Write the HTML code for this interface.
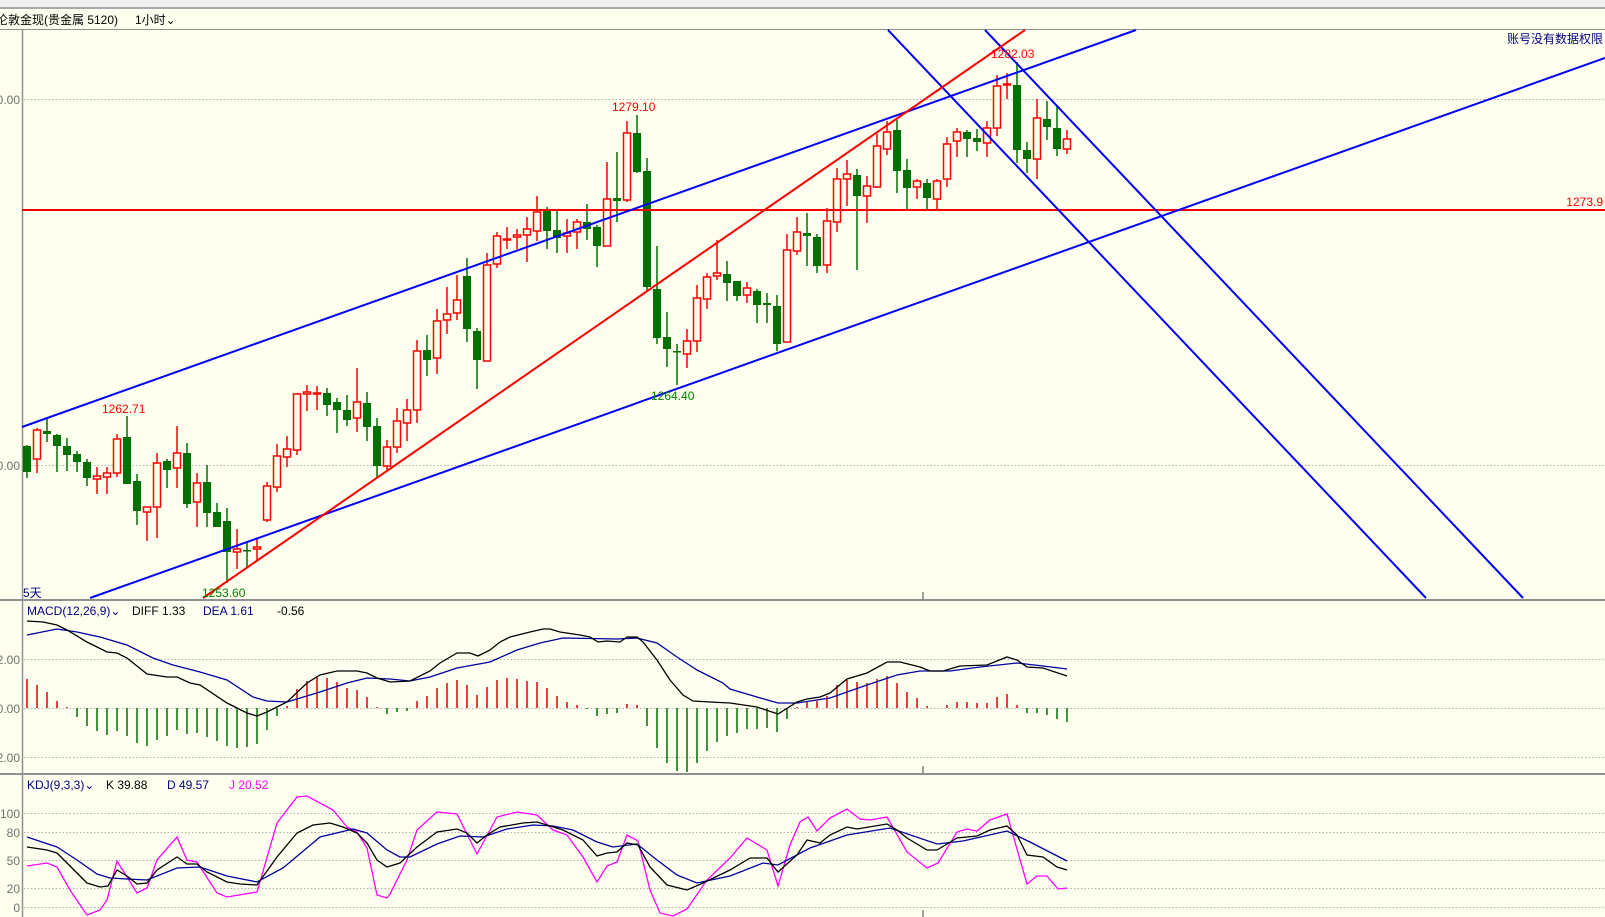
<!DOCTYPE html>
<html><head><meta charset="utf-8"><style>
html,body{margin:0;padding:0;background:#fffff0;width:1605px;height:917px;overflow:hidden}
svg{display:block}
text{font-family:"Liberation Sans","Noto Sans CJK SC",sans-serif;font-size:12px}
</style></head><body>
<svg id="s" width="1605" height="917" xmlns="http://www.w3.org/2000/svg">
<rect x="0" y="0" width="1605" height="917" fill="#fffff0"/>
<rect x="0" y="0" width="1605" height="8" fill="#f0f0f0"/>
<rect x="0" y="7" width="1605" height="2" fill="#a8a8a8"/>
<text x="-4" y="24" font-size="13" fill="#000">伦敦金现(贵金属 5120)</text>
<text x="135" y="24" font-size="13" fill="#000">1小时⌄</text>
<line x1="0" y1="29.5" x2="1605" y2="29.5" stroke="#909090" stroke-width="1"/>
<line x1="22.5" y1="29" x2="22.5" y2="917" stroke="#909090" stroke-width="1.5"/>
<line x1="0" y1="600" x2="1605" y2="600" stroke="#909090" stroke-width="2"/>
<line x1="0" y1="774" x2="1605" y2="774" stroke="#909090" stroke-width="2"/>
<g stroke="#b0b0b0" stroke-dasharray="1.5,2" stroke-width="1">
<line x1="24" y1="99.5" x2="1605" y2="99.5"/><line x1="24" y1="465.5" x2="1605" y2="465.5"/>
<line x1="24" y1="659.5" x2="1605" y2="659.5"/><line x1="24" y1="708.5" x2="1605" y2="708.5"/><line x1="24" y1="757.5" x2="1605" y2="757.5"/>
<line x1="24" y1="813.5" x2="1605" y2="813.5"/><line x1="24" y1="832.5" x2="1605" y2="832.5"/><line x1="24" y1="860.5" x2="1605" y2="860.5"/><line x1="24" y1="888.5" x2="1605" y2="888.5"/><line x1="24" y1="907.5" x2="1605" y2="907.5"/>
</g>
<g fill="#707070" font-size="13" text-anchor="end">
<text x="20" y="104">0.00</text><text x="20" y="470">0.00</text>
<text x="20" y="664">2.00</text><text x="20" y="713">0.00</text><text x="20" y="762">2.00</text>
<text x="20" y="818">100</text><text x="20" y="837">80</text><text x="20" y="865">50</text><text x="20" y="893">20</text><text x="20" y="912">0</text>
</g>
<g stroke="#808080" stroke-width="1.5"><line x1="923" y1="592" x2="923" y2="600"/><line x1="923" y1="766" x2="923" y2="774"/><line x1="923" y1="910" x2="923" y2="917"/></g>
<g id="candles"></g>
<g id="macd"></g>
<line x1="22" y1="210" x2="1605" y2="210" stroke="#ff0000" stroke-width="2"/>
<g stroke="#0000ff" stroke-width="2" fill="none">
<line x1="22" y1="427" x2="1136" y2="30"/>
<line x1="90" y1="598" x2="1605" y2="58"/>
<line x1="888" y1="30" x2="1426" y2="598"/>
<line x1="985" y1="30" x2="1523" y2="598"/>
</g>
<line x1="203" y1="598" x2="1025" y2="30" stroke="#ff0000" stroke-width="2"/>
<text x="1603" y="206" text-anchor="end" fill="#ff0000">1273.9</text>
<text x="1603" y="43" text-anchor="end" fill="#000080" font-size="13">账号没有数据权限</text>
<text x="102" y="413" fill="#ff0000">1262.71</text>
<text x="202" y="597" fill="#008000">1253.60</text>
<text x="612" y="111" fill="#ff0000">1279.10</text>
<text x="651" y="400" fill="#008000">1264.40</text>
<text x="991" y="58" fill="#ff0000">1282.03</text>
<text x="23" y="597" fill="#000080">5天</text>
<text x="27" y="615" fill="#000080">MACD(12,26,9)⌄</text>
<text x="132" y="615" fill="#000">DIFF 1.33</text>
<text x="203" y="615" fill="#000080">DEA 1.61</text>
<text x="277" y="615" fill="#000">-0.56</text>
<text x="27" y="789" fill="#000080">KDJ(9,3,3)⌄</text>
<text x="106" y="789" fill="#000">K 39.88</text>
<text x="167" y="789" fill="#000080">D 49.57</text>
<text x="229" y="789" fill="#ff00ff">J 20.52</text>
</svg>
<script>
var C=[[446,472,445,478,'g'],[430,459,428,473,'r'],[431,434,419,442,'g'],[435,446,434,472,'g'],[446,455,438,471,'g'],[454,462,451,472,'g'],[462,478,459,486,'g'],[476,479,467,494,'r'],[473,477,467,494,'r'],[439,473,434,477,'r'],
[437,484,416,484,'g'],[481,511,474,525,'g'],[507,512,507,541,'r'],[463,507,453,538,'r'],[461,470,459,488,'g'],[453,468,426,488,'r'],[453,504,443,508,'g'],[483,502,473,527,'r'],[482,513,465,527,'g'],[512,527,503,527,'g'],
[521,552,508,583,'g'],[549,552,529,569,'r'],[550,551,543,568,'g'],[547,549,539,560,'r'],[486,520,482,522,'r'],[456,487,444,492,'r'],[449,457,436,467,'r'],[394,450,393,455,'r'],[392,394,385,411,'r'],[393,394,386,410,'r'],
[393,405,388,416,'g'],[402,410,398,433,'g'],[410,420,395,426,'g'],[402,418,368,432,'r'],[403,427,392,441,'g'],[426,466,418,478,'g'],[447,466,440,470,'r'],[421,447,408,453,'r'],[410,423,399,441,'r'],[351,410,340,423,'r'],
[350,360,335,376,'g'],[321,358,309,374,'r'],[314,320,287,334,'r'],[300,313,275,320,'r'],[276,329,258,342,'g'],[331,360,328,389,'g'],[265,361,253,361,'r'],[236,264,232,268,'r'],[239,240,227,249,'r'],[235,237,229,249,'r'],
[229,235,217,262,'r'],[212,231,196,241,'r'],[211,231,207,249,'g'],[230,238,211,253,'g'],[233,236,219,253,'r'],[222,232,219,249,'r'],[222,229,204,240,'g'],[227,246,225,267,'g'],[199,246,162,246,'r'],[198,201,152,222,'g'],
[133,200,121,202,'r'],[133,172,115,173,'g'],[171,287,158,290,'g'],[289,338,246,344,'g'],[337,349,312,367,'g'],[351,352,344,385,'g'],[341,354,329,368,'r'],[298,341,285,352,'r'],[277,299,273,309,'r'],[273,276,240,280,'r'],
[274,283,261,301,'g'],[281,296,281,301,'g'],[288,295,282,303,'r'],[291,305,289,323,'g'],[303,305,293,323,'g'],[306,344,295,351,'g'],[250,342,234,342,'r'],[232,251,217,255,'r'],[233,236,213,266,'g'],[237,266,234,273,'g'],
[221,265,208,273,'r'],[179,222,168,232,'r'],[174,179,160,206,'r'],[175,196,169,270,'g'],[186,196,176,223,'r'],[146,187,134,188,'r'],[132,149,121,155,'r'],[130,171,120,193,'g'],[170,188,159,209,'g'],[181,187,179,199,'r'],
[183,198,179,209,'g'],[181,199,179,209,'r'],[144,179,137,187,'r'],[132,141,128,157,'r'],[132,139,130,157,'g'],[138,142,129,151,'g'],[128,143,121,157,'r'],[86,128,75,136,'r'],[84,85,73,99,'r'],[85,150,62,163,'g'],
[150,159,142,173,'g'],[118,159,99,179,'r'],[119,127,101,140,'g'],[128,149,107,156,'g'],[139,149,130,154,'r']];
var H=[679,685,692,701,707,717,726,731,735,731,736,743,746,740,736,730,734,733,737,741,746,748,747,744,730,716,706,689,681,676,678,682,688,690,697,707,714,712,711,701,
696,688,683,680,685,695,687,680,678,679,681,682,688,696,702,705,709,716,714,713,704,705,726,748,763,771,772,763,751,742,736,733,729,729,728,732,719,707,701,701,
696,685,680,682,683,679,676,683,692,698,706,708,705,702,702,703,703,697,694,705,713,713,715,719,722];
var out="";
for(var i=0;i<C.length;i++){var x=27+10*i,c=C[i];
 if(c[4]=='g'){out+='<line x1="'+x+'" y1="'+c[2]+'" x2="'+x+'" y2="'+c[3]+'" stroke="#007000" stroke-width="1.5"/>';
  out+='<rect x="'+(x-4)+'" y="'+c[0]+'" width="8" height="'+Math.max(1.5,c[1]-c[0])+'" fill="#007000"/>';}
 else{out+='<line x1="'+x+'" y1="'+c[2]+'" x2="'+x+'" y2="'+c[3]+'" stroke="#ff0000" stroke-width="1.5"/>';
  out+='<rect x="'+(x-3.5)+'" y="'+c[0]+'" width="7" height="'+Math.max(1,c[1]-c[0])+'" fill="#fffff0" stroke="#ff0000" stroke-width="1.5"/>';}}
document.getElementById('candles').innerHTML=out;
var m="";
for(var i=0;i<H.length;i++){var x=27+10*i,h=H[i];if(Math.abs(h-708)<1)continue;
 m+='<line x1="'+x+'" y1="708" x2="'+x+'" y2="'+h+'" stroke="'+(h<708?'#e00000':'#007000')+'" stroke-width="1.5"/>';}
function pl(p,col){return '<polyline fill="none" stroke="'+col+'" stroke-width="1.3" points="'+p+'"/>';}
m+=pl("27,635 57,629 77,632 100,637 127,645 153,658 173,665 200,672 227,680 253,697 267,701 287,702 320,692 347,683 367,678 390,679 410,681 430,677 457,668 490,662 517,650 540,643 563,638 617,639 637,638 657,643 677,657 697,670 723,683 730,689 757,697 778,703 797,703 830,698 867,685 897,675 920,671 950,671 980,667 1017,663 1043,666 1067,669","#0000a0");
m+=pl("27,621 43,622 57,625 67,630 87,642 107,652 117,653 127,658 147,674 167,677 177,677 190,683 200,685 227,703 247,713 257,716 267,712 287,702 307,683 320,675 337,671 357,671 367,673 377,678 390,682 410,681 430,671 440,663 457,653 470,653 478,656 490,650 500,642 510,637 530,632 543,629 550,629 560,632 580,635 590,637 598,642 607,641 620,642 627,637 637,637 643,642 657,660 670,680 683,695 693,701 710,702 730,703 757,707 778,714 797,702 807,699 820,697 830,693 847,679 867,673 887,662 900,662 920,667 930,671 943,671 960,666 987,665 1007,657 1017,660 1027,667 1043,668 1067,676","#000");
m+=pl("27,866 47,863 57,867 70,890 87,915 100,910 107,900 117,861 137,893 147,888 157,860 177,837 187,860 197,862 217,893 227,897 257,892 277,823 297,797 307,796 333,810 347,827 357,832 367,848 377,895 387,898 390,894 407,860 417,830 437,812 457,814 477,854 497,817 517,812 537,815 553,830 567,835 583,857 597,882 607,866 617,862 627,835 638,841 650,890 660,913 673,916 687,909 707,880 730,858 747,838 767,850 778,886 790,845 800,822 808,817 817,831 830,818 847,809 860,819 870,820 887,817 907,852 927,868 938,863 957,832 967,829 977,831 990,820 1007,814 1027,884 1037,876 1047,876 1058,889 1067,888","#ff00ff");
m+=pl("27,837 57,847 77,860 97,874 110,878 127,879 147,880 177,868 200,867 227,876 257,882 283,868 320,837 353,829 367,833 387,850 400,857 410,857 437,844 460,836 483,837 507,829 533,825 553,826 573,830 597,842 613,847 637,844 657,860 677,875 697,883 730,876 763,863 778,865 810,848 847,835 890,828 937,844 963,841 1007,831 1030,842 1067,861","#0000a0");
m+=pl("27,847 47,850 57,853 67,863 87,883 100,887 108,886 117,870 127,876 137,884 147,883 157,870 177,857 187,864 197,864 207,872 227,882 240,884 257,885 277,857 297,833 313,825 330,823 343,827 357,833 367,843 377,860 387,867 400,863 417,847 437,832 457,829 467,833 477,843 487,835 500,827 523,823 537,822 547,825 563,830 583,840 597,856 607,853 617,852 627,843 638,845 650,867 667,885 687,890 703,883 730,870 750,858 767,858 778,872 797,855 807,840 820,843 830,835 847,827 857,829 887,824 897,830 907,838 927,850 937,850 957,838 977,836 990,830 1007,826 1017,835 1027,855 1043,857 1057,867 1067,870","#000");
document.getElementById('macd').innerHTML=m;
</script>
</body></html>
